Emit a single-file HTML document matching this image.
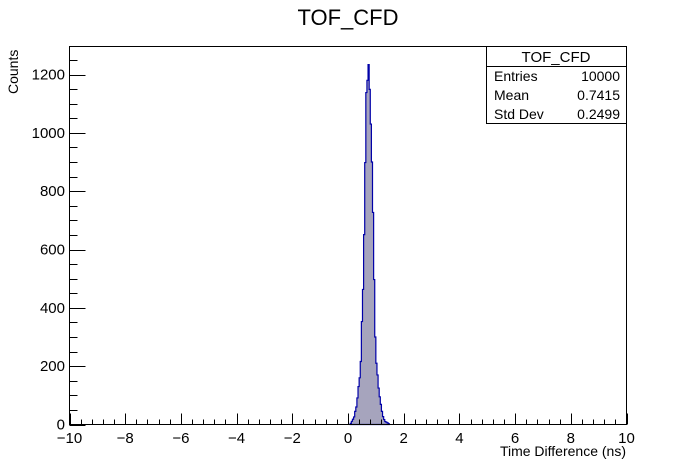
<!DOCTYPE html>
<html><head><meta charset="utf-8"><style>
body{margin:0;background:#fff;}
svg{display:block;font-family:"Liberation Sans",Arial,sans-serif;}
</style></head><body>
<svg id="c" width="696" height="472">
<rect x="0" y="0" width="696" height="472" fill="#fff"/>
<text x="348" y="25" text-anchor="middle" font-size="22">TOF_CFD</text>
<g id="hist"></g>
<g id="axes"></g>
<rect x="69.5" y="46.5" width="557" height="378" fill="none" stroke="#000"/>
<text x="626" y="456" text-anchor="end" font-size="14">Time Difference (ns)</text>
<text transform="translate(18,94) rotate(-90)" font-size="14">Counts</text>
<g>
<rect x="486.5" y="46.5" width="140" height="77" fill="#fff" stroke="#000"/>
<line x1="486.5" y1="66.5" x2="626.5" y2="66.5" stroke="#000"/>
<text x="556" y="62" text-anchor="middle" font-size="15">TOF_CFD</text>
<text x="494" y="81" font-size="14">Entries</text><text x="620" y="81" text-anchor="end" font-size="14">10000</text>
<text x="494" y="100" font-size="14">Mean</text><text x="620" y="100" text-anchor="end" font-size="14">0.7415</text>
<text x="494" y="119" font-size="14">Std Dev</text><text x="620" y="119" text-anchor="end" font-size="14">0.2499</text>
</g>
</svg>
<script>
const binLow = 0.08;
const binWidth = 0.04;
const counts = [4,11,18,26,45,60,91,130,160,216,353,463,651,898,1138,1180,1234,1149,1030,900,727,497,300,210,170,125,95,69,45,27,17,10,8,6,3];
const xTicks = [-10,-8,-6,-4,-2,0,2,4,6,8,10];
const yTicks = [0,200,400,600,800,1000,1200];
const xMin=-10,xMax=10,yMin=0,yMax=1296;
const L=69.5,R=626.5,T=46.5,B=424.5;
const xs=v=>L+(v-xMin)/(xMax-xMin)*(R-L);
const ys=v=>B-(v-yMin)/(yMax-yMin)*(B-T);
const NS="http://www.w3.org/2000/svg";
const hist=document.getElementById('hist');
let d=`M${xs(binLow)},${ys(0)}`;
counts.forEach((c,i)=>{const x0=xs(binLow+i*binWidth),x1=xs(binLow+(i+1)*binWidth);d+=` L${x0},${ys(c)} L${x1},${ys(c)}`;});
d+=` L${xs(binLow+counts.length*binWidth)},${ys(0)} Z`;
const p=document.createElementNS(NS,'path');
p.setAttribute('d',d);p.setAttribute('fill','#a6a4bd');p.setAttribute('stroke','#0000a8');p.setAttribute('stroke-width','1.2');


hist.appendChild(p);
const ax=document.getElementById('axes');
function line(x1,y1,x2,y2){const l=document.createElementNS(NS,'line');l.setAttribute('x1',x1);l.setAttribute('y1',y1);l.setAttribute('x2',x2);l.setAttribute('y2',y2);l.setAttribute('stroke','#000');ax.appendChild(l);return l;}
function text(x,y,s,anchor){const t=document.createElementNS(NS,'text');t.setAttribute('x',x);t.setAttribute('y',y);t.setAttribute('font-size','15');t.setAttribute('text-anchor',anchor);t.textContent=s;ax.appendChild(t);return t;}
for(let v=xMin;v<=xMax+1e-9;v+=0.4){const major=Math.abs(v/2-Math.round(v/2))<1e-6;const x=Math.round(xs(v))+0.5;line(x,B,x,B-(major?11:5));}
xTicks.forEach(v=>{const t=text(xs(v),443,(v<0?'\u2212':'')+Math.abs(v),'middle');

});
for(let v=0;v<=1250;v+=50){const major=v%200===0;const y=Math.round(ys(v))+0.5;line(L,y,L+(major?16:8),y);}
yTicks.forEach(v=>{const t=text(65,ys(v)+5,String(v),'end');

});
</script>
</body></html>
